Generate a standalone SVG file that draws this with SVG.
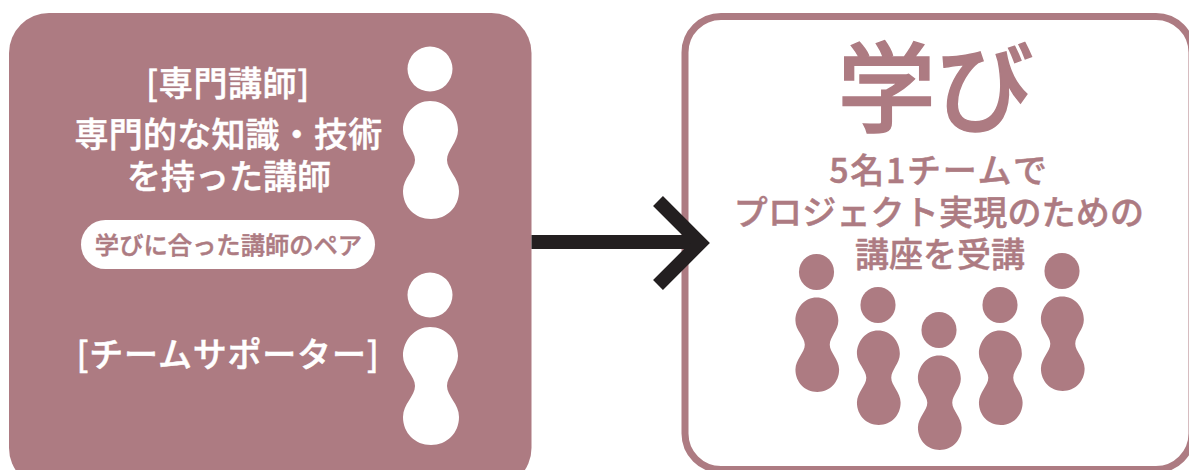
<svg xmlns="http://www.w3.org/2000/svg" xmlns:xlink="http://www.w3.org/1999/xlink" width="1189" height="470" viewBox="0 0 1189 470">
<style>
text{font-family:"Noto Sans CJK JP","Noto Sans",sans-serif;font-weight:500;text-anchor:middle;stroke-width:.5px}
.w{fill:#fff}.r{fill:#ad7b82}
text.w{stroke:#fff}text.r{stroke:#ad7b82}
.t{font-size:34px}
</style>
<defs>
<g id="person">
<circle cx="430" cy="69" r="22.5"/>
<path d="M430,101C446,101 458,114 458,130C458,142 447,150 447,160C447,170 459,178 459,191C459,207 447,219 431,219C415,219 403,207 403,191C403,178 415,170 415,160C415,150 403,142 403,130C403,114 415,101 430,101Z"/>
</g>
</defs>
<rect width="1189" height="470" fill="#fff"/>
<g id="specialist-box">
<rect class="r" x="9" y="13" width="522.5" height="475" rx="40"/>
<text class="w t" x="228" y="96" letter-spacing=".6">[専門講師]</text>
<text class="w t" x="228.5" y="147" letter-spacing=".2">専門的な知識・技術</text>
<text class="w t" x="229" y="189">を持った講師</text>
<rect class="w" x="81" y="220" width="294" height="49" rx="24.5"/>
<text class="r" x="228.5" y="254" font-size="24.3">学びに合った講師のペア</text>
<text class="w t" x="228" y="367" letter-spacing=".8">[チームサポーター]</text>
<use xlink:href="#person" href="#person" class="w"/>
<use xlink:href="#person" href="#person" class="w" transform="translate(0,226)"/>
</g>
<g id="learning-box">
<rect x="685" y="16.5" width="507" height="453" rx="36" fill="#fff" stroke="#ad7b82" stroke-width="7"/>
<text class="r" x="935.5" y="124" font-size="98" style="stroke-width:1.5px">学び</text>
<text class="r t" x="939" y="183" letter-spacing="1.7">5名1チームで</text>
<text class="r t" x="939" y="225" letter-spacing=".2">プロジェクト実現のための</text>
<text class="r t" x="940" y="267">講座を受講</text>
<g class="r">
<use xlink:href="#person" href="#person" transform="translate(816.5,272) scale(.78,.8) translate(-430,-69)"/>
<use xlink:href="#person" href="#person" transform="translate(878,305) scale(.78,.8) translate(-430,-69)"/>
<use xlink:href="#person" href="#person" transform="translate(939,330) scale(.78,.8) translate(-430,-69)"/>
<use xlink:href="#person" href="#person" transform="translate(1000,305) scale(.78,.8) translate(-430,-69)"/>
<use xlink:href="#person" href="#person" transform="translate(1062,271) scale(.78,.8) translate(-430,-69)"/>
</g>
</g>
<g id="connectors" fill="none" stroke="#231f20" stroke-width="14">
<path d="M531.5,242H698"/>
<path d="M658,201L700,243L658,285" stroke-miterlimit="10"/>
</g>
</svg>
